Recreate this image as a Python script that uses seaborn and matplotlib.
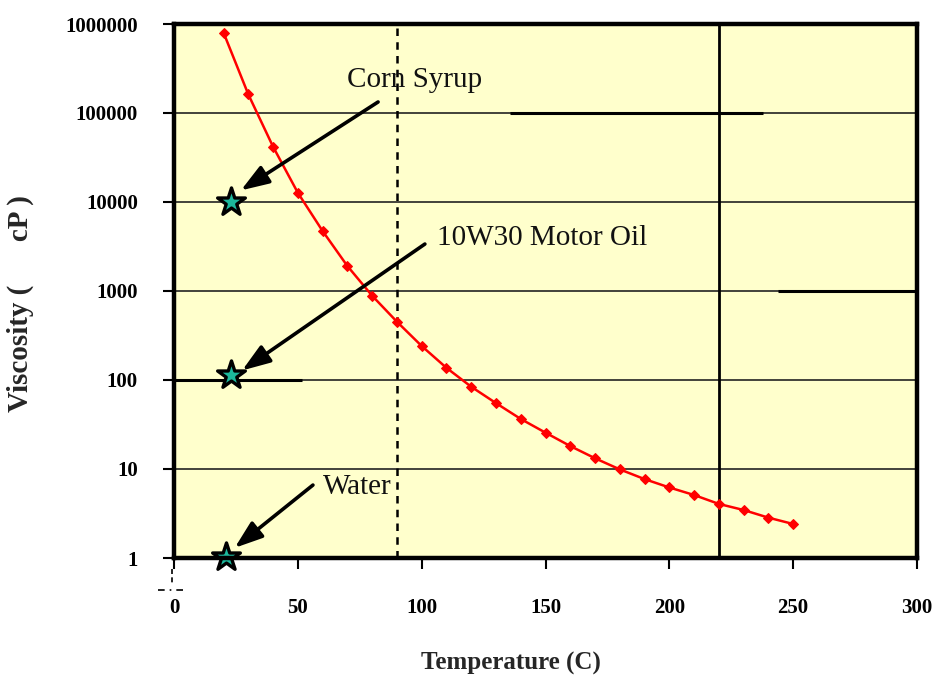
import matplotlib
matplotlib.use("Agg")
import matplotlib.pyplot as plt
from matplotlib.lines import Line2D
import seaborn as sns
import pandas as pd

# ---- data ----
temperature = [20, 30, 40, 50, 60, 70, 80, 90, 100, 110, 120, 130, 140, 150,
               160, 170, 180, 190, 200, 210, 220, 230, 240, 250]
viscosity = [800000, 162000, 41800, 12700, 4720, 1910, 885, 452, 241, 137, 84,
             55, 36.5, 25.6, 18.1, 13.2, 9.9, 7.7, 6.2, 5.1, 4.05, 3.46, 2.84, 2.41]

ref_names = ["Corn Syrup", "10W30 Motor Oil", "Water"]
ref_temp = [23, 23, 21]
ref_visc = [10000, 114, 1.03]

# annotation text anchors and arrow tails/heads (data coords)
label_xy = [(70, 235000), (106, 3950), (60, 6.3)]
arrow_tail = [(82.4, 133000), (101.3, 3370), (56.1, 6.6)]
arrow_head = [(27.0, 13500), (27.5, 128), (24.5, 1.3)]

xticks = [0, 50, 100, 150, 200, 250, 300]
yticks = [1, 10, 100, 1000, 10000, 100000, 1000000]
ytick_labels = ["1", "10", "100", "1000", "10000", "100000", "1000000"]

dashed_vline = 90
solid_vline = 220
# extra heavier horizontal segments visible in the reference: (y, x0, x1)
heavy_segments = [(100000, 135.7, 237.8), (1000, 243.9, 300), (100, 0, 51.7)]

# ---- style ----
sns.set_style("ticks")
plt.rcParams["font.family"] = ["Liberation Serif", "DejaVu Serif"]

fig = plt.figure(figsize=(9.32, 6.78), dpi=100)
ax = fig.add_axes([174 / 932, 1 - 558 / 678, (917 - 174) / 932, (558 - 24) / 678])
ax.set_facecolor("#FFFFCC")

ax.set_yscale("log")
ax.set_xlim(0, 300)
ax.set_ylim(1, 1000000)

# grid lines at each decade
for yv in yticks[1:-1]:
    ax.axhline(yv, color="#222222", lw=1.2, zorder=1)
for yv, x0, x1 in heavy_segments:
    ax.plot([x0, x1], [yv, yv], color="black", lw=2.2, zorder=1.5,
            solid_capstyle="butt")
ax.axvline(dashed_vline, color="black", lw=1.8, ls=(0, (3, 2.5)), zorder=2)
ax.axvline(solid_vline, color="black", lw=2.0, zorder=2)

df = pd.DataFrame({"T": temperature, "V": viscosity})
sns.lineplot(data=df, x="T", y="V", ax=ax, color="#FF0000", lw=1.8,
             marker="D", markersize=5, markeredgecolor="#FF0000", zorder=5)

ref = pd.DataFrame({"T": ref_temp, "V": ref_visc, "name": ref_names})
sns.scatterplot(data=ref, x="T", y="V", ax=ax, marker="*", s=440,
                color="#1CB89C", edgecolor="black", linewidth=2.4, zorder=6,
                clip_on=False)

for name, lxy, tail, head in zip(ref_names, label_xy, arrow_tail, arrow_head):
    ax.text(lxy[0], lxy[1], name, fontsize=21, va="center", ha="left",
            color="#111111", zorder=7)
    ax.annotate("", xy=head, xytext=tail,
                arrowprops=dict(arrowstyle="-|>,head_length=1.7,head_width=0.6",
                                color="black", lw=2.6, shrinkA=0, shrinkB=0),
                zorder=7)

# axes & ticks
ax.set_xticks(xticks)
ax.set_xticklabels([str(v) for v in xticks])
ax.set_yticks(yticks)
ax.set_yticklabels(ytick_labels)
ax.yaxis.set_minor_locator(matplotlib.ticker.NullLocator())
ax.tick_params(axis="both", direction="out", length=8, width=1.5, pad=18,
               labelsize=15, colors="black")
ax.tick_params(axis="x", pad=21)
for lab in ax.get_xticklabels() + ax.get_yticklabels():
    lab.set_fontweight("bold")

for sp in ax.spines.values():
    sp.set_visible(True)
    sp.set_linewidth(3.2)
    sp.set_color("black")
    sp.set_zorder(8)

ax.set_xlabel("Temperature (C)", fontsize=18, fontweight="bold")
ax.set_ylabel("Viscosity (      cP )", fontsize=21, fontweight="bold")
ax.xaxis.set_label_coords((511 - 174) / 743, (558 - 652) / 534)
ax.yaxis.set_label_coords((34 - 174) / 743, (558 - 304) / 534)

# small dash-dot crosshair near the origin label (as in reference)
fig.add_artist(Line2D([172 / 932, 172 / 932], [1 - 569 / 678, 1 - 584 / 678],
                      color="black", lw=1.2, ls=(0, (3, 2))))
fig.add_artist(Line2D([158 / 932, 188 / 932], [1 - 590 / 678, 1 - 590 / 678],
                      color="black", lw=1.2, ls=(0, (4, 3, 1, 3))))

fig.savefig("out.png", dpi=100, facecolor="white")
